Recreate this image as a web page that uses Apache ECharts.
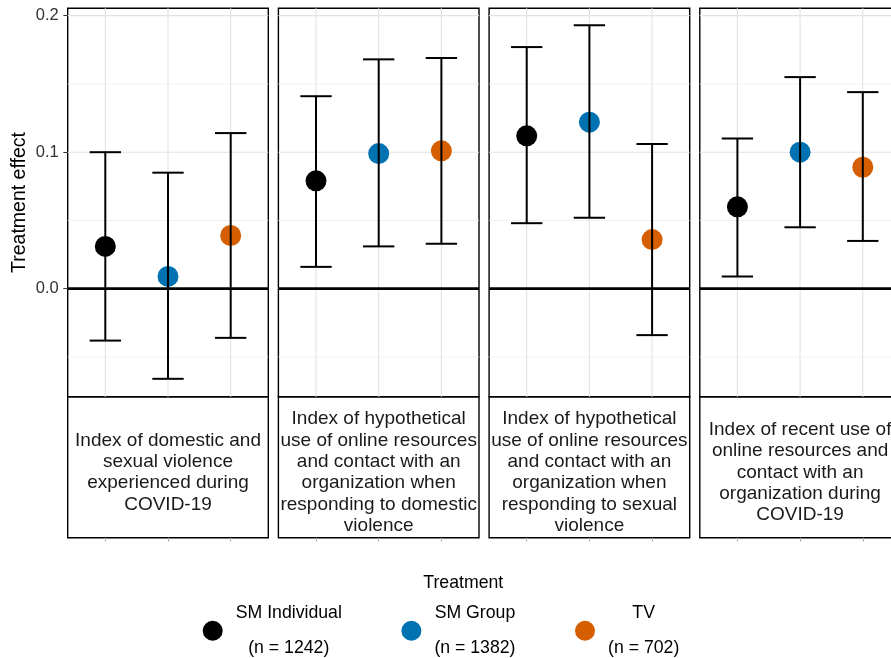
<!DOCTYPE html>
<html>
<head>
<meta charset="utf-8">
<script src="https://cdn.jsdelivr.net/npm/echarts@6/dist/echarts.min.js"></script>
<style>
  html, body { margin: 0; padding: 0; background: #fff; }
  #chart { width: 891px; height: 658px; }
</style>
</head>
<body>
<div id="chart"></div>
<script>
// Treatment arms and their sample sizes
const treatments = ['SM Individual', 'SM Group', 'TV'];
const sampleSizes = [1242, 1382, 702];
const treatmentColors = ['#000000', '#0072B2', '#D55E00'];

// Outcome indices, one facet each
const outcomes = [
  'Index of domestic and\nsexual violence\nexperienced during\nCOVID-19',
  'Index of hypothetical\nuse of online resources\nand contact with an\norganization when\nresponding to domestic\nviolence',
  'Index of hypothetical\nuse of online resources\nand contact with an\norganization when\nresponding to sexual\nviolence',
  'Index of recent use of\nonline resources and\ncontact with an\norganization during\nCOVID-19'
];

// Point estimates and confidence bounds, per treatment, across outcomes
const smIndividualEst = [0.031, 0.079, 0.112, 0.060];
const smIndividualLo  = [-0.038, 0.016, 0.048, 0.009];
const smIndividualHi  = [0.100, 0.141, 0.177, 0.110];

const smGroupEst = [0.009, 0.099, 0.122, 0.100];
const smGroupLo  = [-0.066, 0.031, 0.052, 0.045];
const smGroupHi  = [0.085, 0.168, 0.193, 0.155];

const tvEst = [0.039, 0.101, 0.036, 0.089];
const tvLo  = [-0.036, 0.033, -0.034, 0.035];
const tvHi  = [0.114, 0.169, 0.106, 0.144];

// Axis breaks
const yTickValues = [0, 0.1, 0.2];
const yMinorBreaks = [-0.05, 0.05, 0.15];
const xPositions = [1, 2, 3];

const estimates = [smIndividualEst, smGroupEst, tvEst];
const lowers = [smIndividualLo, smGroupLo, tvLo];
const uppers = [smIndividualHi, smGroupHi, tvHi];

// Layout
const FONT = 'Liberation Sans, Arial, sans-serif';
const panelLeft0 = 67.7, panelStep = 210.7, panelWidth = 200.6;
const panelTop = 8.3, panelHeight = 388.4;
const stripHeight = 141;
const yMin = -0.0791, yMax = 0.2054;
const xMin = 0.4, xMax = 3.6;

const grids = [], xAxes = [], yAxes = [], series = [], graphics = [];

outcomes.forEach((label, p) => {
  const left = panelLeft0 + p * panelStep;
  // plot panel
  grids.push({ left, top: panelTop, width: panelWidth, height: panelHeight,
    show: true, borderColor: '#000', borderWidth: 1.4, backgroundColor: 'transparent',
    containLabel: false, outerBoundsMode: 'none' });
  // facet strip below the panel
  grids.push({ left, top: panelTop + panelHeight, width: panelWidth, height: stripHeight,
    show: true, borderColor: '#000', borderWidth: 1.4, backgroundColor: 'transparent',
    containLabel: false, outerBoundsMode: 'none' });

  const gPlot = p * 2, gStrip = p * 2 + 1;

  xAxes.push({ gridIndex: gPlot, type: 'value', min: xMin, max: xMax, show: false });
  xAxes.push({ gridIndex: gStrip, type: 'value', min: xMin, max: xMax, position: 'bottom',
    axisLine: { show: false }, axisLabel: { show: false }, splitLine: { show: false },
    axisTick: { show: true, inside: false, length: 4, customValues: xPositions,
      lineStyle: { color: '#b3b3b3', width: 1 } } });

  const first = p === 0;
  yAxes.push({ gridIndex: gPlot, type: 'value', min: yMin, max: yMax,
    name: first ? 'Treatment effect' : '', nameLocation: 'middle', nameGap: 38, nameRotate: 90,
    nameTextStyle: { fontFamily: FONT, fontSize: 19.5, color: '#000' },
    axisLine: { show: false },
    axisTick: { show: first, length: 4.4, customValues: yTickValues, lineStyle: { color: '#333', width: 1 } },
    axisLabel: { show: first, customValues: yTickValues, margin: 9,
      fontFamily: FONT, fontSize: 16.5, color: '#333', formatter: v => v.toFixed(1) },
    splitLine: { show: false } });
  yAxes.push({ gridIndex: gStrip, type: 'value', min: 0, max: 1, show: false });

  const axisIdx = { xAxisIndex: gPlot, yAxisIndex: gPlot };

  // background grid lines: [orientation (0 = horizontal, 1 = vertical), value, major]
  const gridData = [];
  yTickValues.forEach(v => gridData.push([0, v, 1]));
  yMinorBreaks.forEach(v => gridData.push([0, v, 0]));
  xPositions.forEach(v => gridData.push([1, v, 1]));
  series.push(Object.assign({
    type: 'custom', name: 'grid-lines', silent: true, z: 1,
    encode: { x: -1, y: -1 },
    data: gridData,
    renderItem: (params, api) => {
      const cs = params.coordSys;
      const kind = api.value(0), v = api.value(1), major = api.value(2);
      const stroke = major ? '#e3e3e3' : '#ededed';
      const lw = major ? 1.1 : 0.8;
      if (kind === 0) {
        const py = api.coord([1, v])[1];
        return { type: 'line', shape: { x1: cs.x, y1: py, x2: cs.x + cs.width, y2: py },
          style: { stroke, lineWidth: lw } };
      }
      const px = api.coord([v, 0])[0];
      return { type: 'line', shape: { x1: px, y1: cs.y, x2: px, y2: cs.y + cs.height },
        style: { stroke, lineWidth: lw } };
    }
  }, axisIdx));

  // reference line at zero
  series.push(Object.assign({
    type: 'custom', name: 'zero-line', silent: true, z: 3,
    encode: { x: -1, y: -1 },
    data: [[0]],
    renderItem: (params, api) => {
      const cs = params.coordSys;
      const py = api.coord([1, api.value(0)])[1];
      return { type: 'line', shape: { x1: cs.x, y1: py, x2: cs.x + cs.width, y2: py },
        style: { stroke: '#000', lineWidth: 2.7 } };
    }
  }, axisIdx));

  // point estimates
  treatments.forEach((t, k) => {
    series.push(Object.assign({
      type: 'scatter', name: t, z: 4,
      symbol: 'circle', symbolSize: 21,
      itemStyle: { color: treatmentColors[k], opacity: 1 },
      emphasis: { disabled: true },
      data: [[xPositions[k], estimates[k][p]]]
    }, axisIdx));
  });

  // confidence intervals
  series.push(Object.assign({
    type: 'custom', name: 'ci', silent: true, z: 5,
    encode: { x: 0, y: [1, 2] },
    data: treatments.map((t, k) => [xPositions[k], lowers[k][p], uppers[k][p]]),
    renderItem: (params, api) => {
      const x = api.value(0);
      const lo = api.coord([x, api.value(1)]);
      const hi = api.coord([x, api.value(2)]);
      const half = api.size([0.25, 0])[0];
      const style = { stroke: '#000', lineWidth: 2 };
      return { type: 'group', children: [
        { type: 'line', shape: { x1: lo[0], y1: lo[1], x2: hi[0], y2: hi[1] }, style },
        { type: 'line', shape: { x1: hi[0] - half, y1: hi[1], x2: hi[0] + half, y2: hi[1] }, style },
        { type: 'line', shape: { x1: lo[0] - half, y1: lo[1], x2: lo[0] + half, y2: lo[1] }, style }
      ] };
    }
  }, axisIdx));

  // strip label
  graphics.push({
    type: 'text', x: left + panelWidth / 2, y: 472.5, silent: true,
    style: { text: label, align: 'center', verticalAlign: 'middle',
      font: '19px ' + FONT, lineHeight: 21.3, fill: '#1a1a1a' }
  });
});

// legend title
graphics.push({
  type: 'text', x: 463.3, y: 583.3, silent: true,
  style: { text: 'Treatment', align: 'center', verticalAlign: 'middle',
    font: '17.7px ' + FONT, fill: '#000' }
});

const chart = echarts.init(document.getElementById('chart'), null, { renderer: 'canvas' });
chart.setOption({
  animation: false,
  backgroundColor: '#fff',
  grid: grids,
  xAxis: xAxes,
  yAxis: yAxes,
  series,
  graphic: graphics,
  legend: {
    data: treatments.map((t, k) => ({ name: t, icon: 'circle', itemStyle: { color: treatmentColors[k] } })),
    orient: 'horizontal', left: 202.7, top: 604.4, padding: 0,
    itemWidth: 20, itemHeight: 20, itemGap: 59.5,
    selectedMode: false,
    formatter: name => {
      const n = sampleSizes[treatments.indexOf(name)];
      return '{a|' + name + '}\n{a|(n = ' + n + ')}';
    },
    textStyle: {
      padding: [0, 0, 0, 8],
      rich: { a: { align: 'center', fontFamily: FONT, fontSize: 17.7, lineHeight: 34.7, color: '#000' } }
    }
  }
});
</script>
</body>
</html>
